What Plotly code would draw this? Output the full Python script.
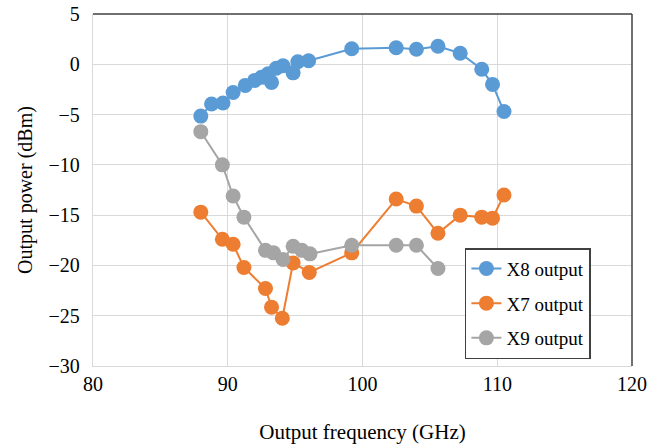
import plotly.graph_objects as go

x8_freq = [88.0, 88.8, 89.65, 90.4, 91.3, 92.0, 92.5, 93.0, 93.25, 93.6, 94.1, 94.85, 95.2, 96.0,
           99.2, 102.5, 104.0, 105.6, 107.25, 108.85, 109.65, 110.5]
x8_power = [-5.15, -3.95, -3.85, -2.8, -2.1, -1.6, -1.3, -0.95, -1.8, -0.4, -0.15, -0.85, 0.25, 0.35,
            1.55, 1.65, 1.5, 1.8, 1.1, -0.5, -2.0, -4.7]

x7_freq = [88.0, 89.6, 90.4, 91.2, 92.8, 93.25, 94.05, 94.85, 96.05, 99.2, 102.5, 104.0, 105.6,
           107.25, 108.85, 109.65, 110.5]
x7_power = [-14.7, -17.4, -17.9, -20.2, -22.3, -24.15, -25.25, -19.75, -20.7, -18.75, -13.4, -14.1,
            -16.8, -15.0, -15.2, -15.3, -13.0]

x9_freq = [88.0, 89.6, 90.4, 91.2, 92.8, 93.4, 94.1, 94.85, 95.5, 96.1, 99.2, 102.5, 104.0, 105.6]
x9_power = [-6.7, -10.0, -13.1, -15.2, -18.5, -18.75, -19.4, -18.1, -18.5, -18.85, -18.0, -18.0,
            -18.0, -20.3]

x_ticks = [80, 90, 100, 110, 120]
y_ticks = [5, 0, -5, -10, -15, -20, -25, -30]
y_tick_text = ["5", "0", "\u22125", "\u221210", "\u221215", "\u221220", "\u221225", "\u221230"]

FONT = "Times New Roman, Liberation Serif, serif"
FS = 20

fig = go.Figure()
series = [
    ("X8 output", x8_freq, x8_power, "#5B9BD5"),
    ("X7 output", x7_freq, x7_power, "#ED7D31"),
    ("X9 output", x9_freq, x9_power, "#A5A5A5"),
]
for i, (name, xs, ys, col) in enumerate(series):
    fig.add_trace(go.Scatter(
        x=xs, y=ys, name=name, mode="lines+markers",
        line=dict(color=col, width=2),
        marker=dict(color=col, size=15, line=dict(width=0)),
        legendgroup=f"g{i}",
    ))

fig.update_layout(
    width=662, height=446,
    margin=dict(l=93, r=30, t=14, b=80, autoexpand=False),
    paper_bgcolor="white", plot_bgcolor="white",
    font=dict(family=FONT, size=FS, color="black"),
    showlegend=True,
    legend=dict(
        x=0.69, y=0.335, xanchor="left", yanchor="top",
        bordercolor="#404040", borderwidth=1.5, bgcolor="white",
        font=dict(family=FONT, size=FS - 1, color="black"),
        traceorder="grouped", tracegroupgap=7,
        entrywidth=100, entrywidthmode="pixels",
    ),
    xaxis=dict(
        range=[80, 120], tickvals=x_ticks, ticktext=[str(v) for v in x_ticks],
        showgrid=True, gridcolor="#D9D9D9", gridwidth=1.3,
        showline=True, linecolor="#D9D9D9", linewidth=1.3,
        zeroline=False, ticks="", ticklen=0, automargin=False,
        title=dict(text="Output frequency (GHz)", standoff=30, font=dict(family=FONT, size=FS + 1)),
    ),
    yaxis=dict(
        range=[-30, 5], tickvals=y_ticks, ticktext=y_tick_text,
        showgrid=True, gridcolor="#D9D9D9", gridwidth=1.3,
        showline=True, linecolor="#D9D9D9", linewidth=1.3,
        zeroline=False, ticks="outside", ticklen=8, tickcolor="rgba(0,0,0,0)",
        automargin=False,
        title=dict(text="Output power (dBm)", standoff=10, font=dict(family=FONT, size=FS)),
    ),
)

# dark top and right frame edges
fig.add_shape(type="line", xref="paper", yref="paper", x0=0, x1=1, y0=1, y1=1,
              line=dict(color="#404040", width=1.5))
fig.add_shape(type="line", xref="paper", yref="paper", x0=1, x1=1, y0=0, y1=1,
              line=dict(color="#404040", width=1.5))

fig.write_html("out.html")
